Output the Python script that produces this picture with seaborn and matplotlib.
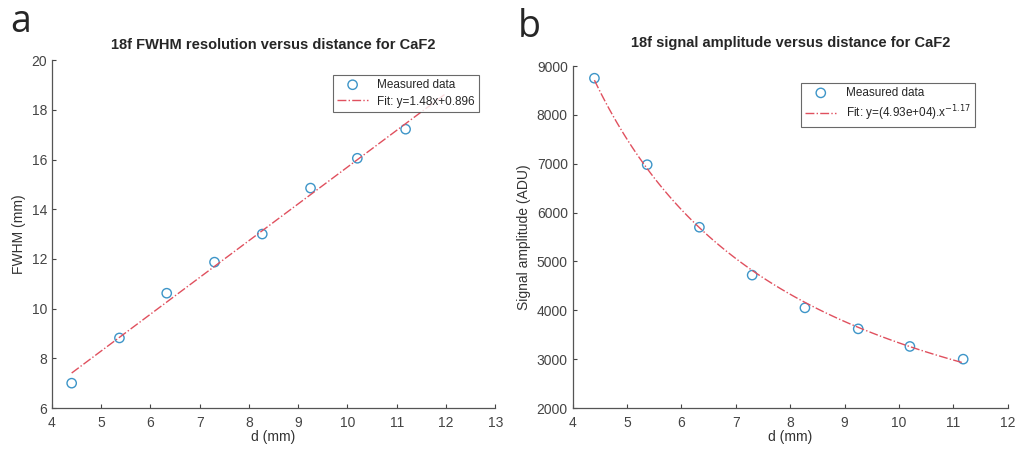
import numpy as np
import pandas as pd
import matplotlib
matplotlib.use('Agg')
import matplotlib.pyplot as plt
import seaborn as sns

# measured distances (mm)
dist = [4.40, 5.37, 6.33, 7.30, 8.27, 9.25, 10.20, 11.18]
# FWHM (mm)
fwhm = [7.00, 8.82, 10.62, 11.87, 13.00, 14.85, 16.05, 17.22]
# signal amplitude (ADU)
amp = [8750, 6980, 5700, 4720, 4050, 3620, 3260, 3000]

# fit parameters shown in the legends
lin_slope, lin_icpt = 1.48, 0.896
pow_a, pow_b = 4.93e4, -1.17
lin_xmax = 12.0

sns.set_theme(style='ticks')
plt.rcParams['font.family'] = ['Liberation Sans', 'DejaVu Sans']
plt.rcParams['axes.edgecolor'] = '#555555'
plt.rcParams['xtick.color'] = '#444444'
plt.rcParams['ytick.color'] = '#444444'
plt.rcParams['xtick.direction'] = 'in'
plt.rcParams['ytick.direction'] = 'in'

blue = '#3d95c8'
red = '#e0505e'

df = pd.DataFrame({'d': dist, 'fwhm': fwhm, 'amp': amp})

xs_lin = np.linspace(dist[0], lin_xmax, 100)
fit_lin = pd.DataFrame({'d': xs_lin, 'y': lin_slope * xs_lin + lin_icpt})
xs_pow = np.linspace(dist[0], dist[-1], 100)
fit_pow = pd.DataFrame({'d': xs_pow, 'y': pow_a * xs_pow ** pow_b})

fig = plt.figure(figsize=(10.19, 4.53), dpi=100)
ax1 = fig.add_axes([0.051, 0.0993, 0.435, 0.768])
ax2 = fig.add_axes([0.562, 0.0993, 0.427, 0.755])

def style(ax):
    sns.despine(ax=ax)
    ax.tick_params(labelsize=10, length=3, width=0.8)
    ax.tick_params(axis='x', pad=6)
    for s in ['left', 'bottom']:
        ax.spines[s].set_linewidth(0.9)

# panel a
sns.scatterplot(data=df, x='d', y='fwhm', ax=ax1, marker='o', s=45,
                facecolor='none', edgecolor=blue, linewidth=1.0, label='Measured data')
sns.lineplot(data=fit_lin, x='d', y='y', ax=ax1, color=red, lw=1.0,
             linestyle='-.', label='Fit: y=1.48x+0.896')
ax1.set_xlim(4, 13)
ax1.set_ylim(6, 20)
ax1.set_xticks(range(4, 14))
ax1.set_yticks(range(6, 21, 2))
ax1.set_xlabel('d (mm)', fontsize=10, color='#333333', labelpad=0)
ax1.set_ylabel('FWHM (mm)', fontsize=10, color='#333333')
ax1.set_title('18f FWHM resolution versus distance for CaF2', fontsize=10.5,
              fontweight='bold', pad=8)
style(ax1)
leg1 = ax1.legend(loc='upper right', bbox_to_anchor=(0.977, 0.975), fontsize=8.5,
                  frameon=True, fancybox=False, edgecolor='#444444',
                  borderpad=0.35, handlelength=2.6, labelspacing=0.4)
leg1.get_frame().set_linewidth(0.8)
leg1.set_zorder(5)

# panel b
sns.scatterplot(data=df, x='d', y='amp', ax=ax2, marker='o', s=45,
                facecolor='none', edgecolor=blue, linewidth=1.0, label='Measured data')
sns.lineplot(data=fit_pow, x='d', y='y', ax=ax2, color=red, lw=1.0,
             linestyle='-.', label='Fit: y=(4.93e+04).x$^{-1.17}$')
ax2.set_xlim(4, 12)
ax2.set_ylim(2000, 9000)
ax2.set_xticks(range(4, 13))
ax2.set_yticks(range(2000, 9001, 1000))
ax2.set_xlabel('d (mm)', fontsize=10, color='#333333', labelpad=0)
ax2.set_ylabel('Signal amplitude (ADU)', fontsize=10, color='#333333')
ax2.set_title('18f signal amplitude versus distance for CaF2', fontsize=10.5,
              fontweight='bold', pad=14)
style(ax2)
leg2 = ax2.legend(loc='upper right', bbox_to_anchor=(0.938, 0.968), fontsize=8.5,
                  frameon=True, fancybox=False, edgecolor='#444444',
                  borderpad=0.35, handlelength=2.6, labelspacing=0.4)
leg2.get_frame().set_linewidth(0.8)

fig.text(0.010, 0.93, 'a', fontsize=27, family='Open Sans')
fig.text(0.508, 0.918, 'b', fontsize=27, family='Open Sans')

fig.savefig('out.png', dpi=100, facecolor='white')
